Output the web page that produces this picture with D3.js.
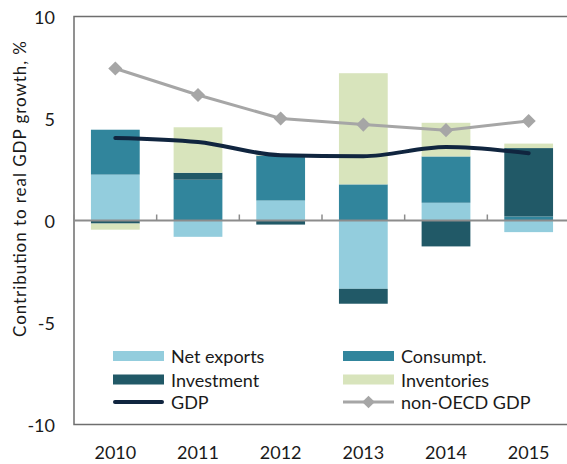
<!DOCTYPE html>
<html lang="en">

<head>
    <meta charset="UTF-8">
    <title>Contribution to real GDP growth</title>
    <style>
        body { margin: 0; background: #fff; }
        text { font-family: Lato, "Open Sans", sans-serif; fill: #1a1a1a; }
    </style>
</head>

<body>
    <div class="canvas"></div>
    <script src="https://cdnjs.cloudflare.com/ajax/libs/d3/7.8.2/d3.min.js"></script>
    <script>
        // data
        const years = ["2010", "2011", "2012", "2013", "2014", "2015"];
        const netExports = [2.25, -0.8, 0.98, -3.35, 0.87, -0.57];
        const consumption = [2.2, 2.0, 2.2, 1.77, 2.27, 0.2];
        const investment = [-0.15, 0.34, -0.2, -0.73, -1.27, 3.35];
        const inventories = [-0.3, 2.23, 0.08, 5.45, 1.65, 0.22];
        const gdp = [4.05, 3.85, 3.2, 3.15, 3.6, 3.3];
        const nonOecdGdp = [7.45, 6.15, 5.0, 4.7, 4.43, 4.88];
        const yTicks = [-10, -5, 0, 5, 10];

        const seriesNames = ["Net exports", "Consumpt.", "Investment", "Inventories"];
        const seriesColors = ["#93cddd", "#31859c", "#215967", "#d8e4bc"];

        const width = 567;
        const height = 464;
        const plot = { left: 74, right: 570, top: 16.5, bottom: 424.5 };

        const svg = d3.select(".canvas")
            .append("svg")
            .attr("width", width)
            .attr("height", height);

        const x = d3.scaleBand()
            .domain(years)
            .range([plot.left, plot.right])
            .paddingInner(0.41)
            .paddingOuter(0.205);

        const y = d3.scaleLinear()
            .domain([-10, 10])
            .range([plot.bottom, plot.top]);

        const rows = years.map((yr, i) => ({
            year: yr,
            "Net exports": netExports[i],
            "Consumpt.": consumption[i],
            "Investment": investment[i],
            "Inventories": inventories[i]
        }));

        const stack = d3.stack()
            .keys(seriesNames)
            .offset(d3.stackOffsetDiverging);
        const layers = stack(rows);

        // plot frame
        svg.append("rect")
            .attr("x", plot.left)
            .attr("y", plot.top)
            .attr("width", plot.right - plot.left)
            .attr("height", plot.bottom - plot.top)
            .attr("fill", "none")
            .attr("stroke", "#6e6e6e")
            .attr("stroke-width", 1.5);

        // bars
        svg.append("g").selectAll("g")
            .data(layers)
            .join("g")
            .attr("fill", (d, i) => seriesColors[i])
            .selectAll("rect")
            .data(d => d)
            .join("rect")
            .attr("x", d => x(d.data.year))
            .attr("width", x.bandwidth())
            .attr("y", d => y(Math.max(d[0], d[1])))
            .attr("height", d => Math.abs(y(d[0]) - y(d[1])));

        // zero line with category ticks
        const zero = svg.append("g").attr("stroke", "#8c8c8c").attr("stroke-width", 2);
        zero.append("line")
            .attr("x1", plot.left).attr("x2", plot.right)
            .attr("y1", y(0)).attr("y2", y(0));
        const step = x.step();
        zero.selectAll(".tk")
            .data(d3.range(years.length + 1))
            .join("line")
            .attr("class", "tk")
            .attr("stroke-width", 1.5)
            .attr("x1", i => plot.left + i * step)
            .attr("x2", i => plot.left + i * step)
            .attr("y1", y(0))
            .attr("y2", y(0) - 6);

        const cx = (d, i) => x(years[i]) + x.bandwidth() / 2;

        // non-OECD GDP line + diamonds
        svg.append("path")
            .datum(nonOecdGdp)
            .attr("fill", "none")
            .attr("stroke", "#a6a6a6")
            .attr("stroke-width", 3)
            .attr("d", d3.line().x(cx).y(d => y(d)));
        svg.append("g").selectAll("path")
            .data(nonOecdGdp)
            .join("path")
            .attr("fill", "#a6a6a6")
            .attr("transform", (d, i) => `translate(${cx(d, i)},${y(d)}) rotate(45)`)
            .attr("d", d3.symbol(d3.symbolSquare, 100));

        // GDP smoothed line
        svg.append("path")
            .datum(gdp)
            .attr("fill", "none")
            .attr("stroke", "#10253f")
            .attr("stroke-width", 4)
            .attr("stroke-linecap", "round")
            .attr("d", d3.line().x(cx).y(d => y(d)).curve(d3.curveMonotoneX));

        // y tick labels
        svg.append("g").selectAll("text")
            .data(yTicks)
            .join("text")
            .attr("x", 55)
            .attr("y", d => y(d))
            .attr("text-anchor", "end")
            .attr("dominant-baseline", "central")
            .attr("font-size", 18)
            .text(d => d);

        // x labels
        svg.append("g").selectAll("text")
            .data(years)
            .join("text")
            .attr("x", d => x(d) + x.bandwidth() / 2)
            .attr("y", 452)
            .attr("text-anchor", "middle")
            .attr("dominant-baseline", "central")
            .attr("font-size", 18)
            .text(d => d);

        // y title (spaced out to the reference's length)
        svg.append("text")
            .attr("transform", "translate(19,189) rotate(-90)")
            .attr("text-anchor", "middle")
            .attr("dominant-baseline", "central")
            .attr("font-size", 17)
            .attr("textLength", 296)
            .attr("lengthAdjust", "spacing")
            .text("Contribution to real GDP growth, %");

        // legend
        const legendItems = [
            { name: "Net exports", type: "box", color: seriesColors[0], col: 0, row: 0 },
            { name: "Consumpt.", type: "box", color: seriesColors[1], col: 1, row: 0 },
            { name: "Investment", type: "box", color: seriesColors[2], col: 0, row: 1 },
            { name: "Inventories", type: "box", color: seriesColors[3], col: 1, row: 1 },
            { name: "GDP", type: "line", color: "#10253f", col: 0, row: 2 },
            { name: "non-OECD GDP", type: "marker", color: "#a6a6a6", col: 1, row: 2 }
        ];
        const colX = [113, 343];
        const rowY = [356, 379.5, 402];
        const lg = svg.append("g").selectAll("g")
            .data(legendItems)
            .join("g")
            .attr("transform", d => `translate(${colX[d.col]},${rowY[d.row]})`);
        lg.filter(d => d.type === "box").append("rect")
            .attr("x", 0).attr("y", -5).attr("width", 51).attr("height", 10)
            .attr("fill", d => d.color);
        lg.filter(d => d.type === "line").append("line")
            .attr("x1", 2).attr("x2", 49).attr("y1", 0).attr("y2", 0)
            .attr("stroke", d => d.color).attr("stroke-width", 4)
            .attr("stroke-linecap", "round");
        lg.filter(d => d.type === "marker").append("line")
            .attr("x1", 0).attr("x2", 51).attr("y1", 0).attr("y2", 0)
            .attr("stroke", d => d.color).attr("stroke-width", 3);
        lg.filter(d => d.type === "marker").append("path")
            .attr("transform", "translate(25.5,0) rotate(45)")
            .attr("fill", d => d.color)
            .attr("d", d3.symbol(d3.symbolSquare, 80));
        lg.append("text")
            .attr("x", 58)
            .attr("y", 0)
            .attr("dominant-baseline", "central")
            .attr("font-size", 18)
            .text(d => d.name);
    </script>
</body>

</html>
